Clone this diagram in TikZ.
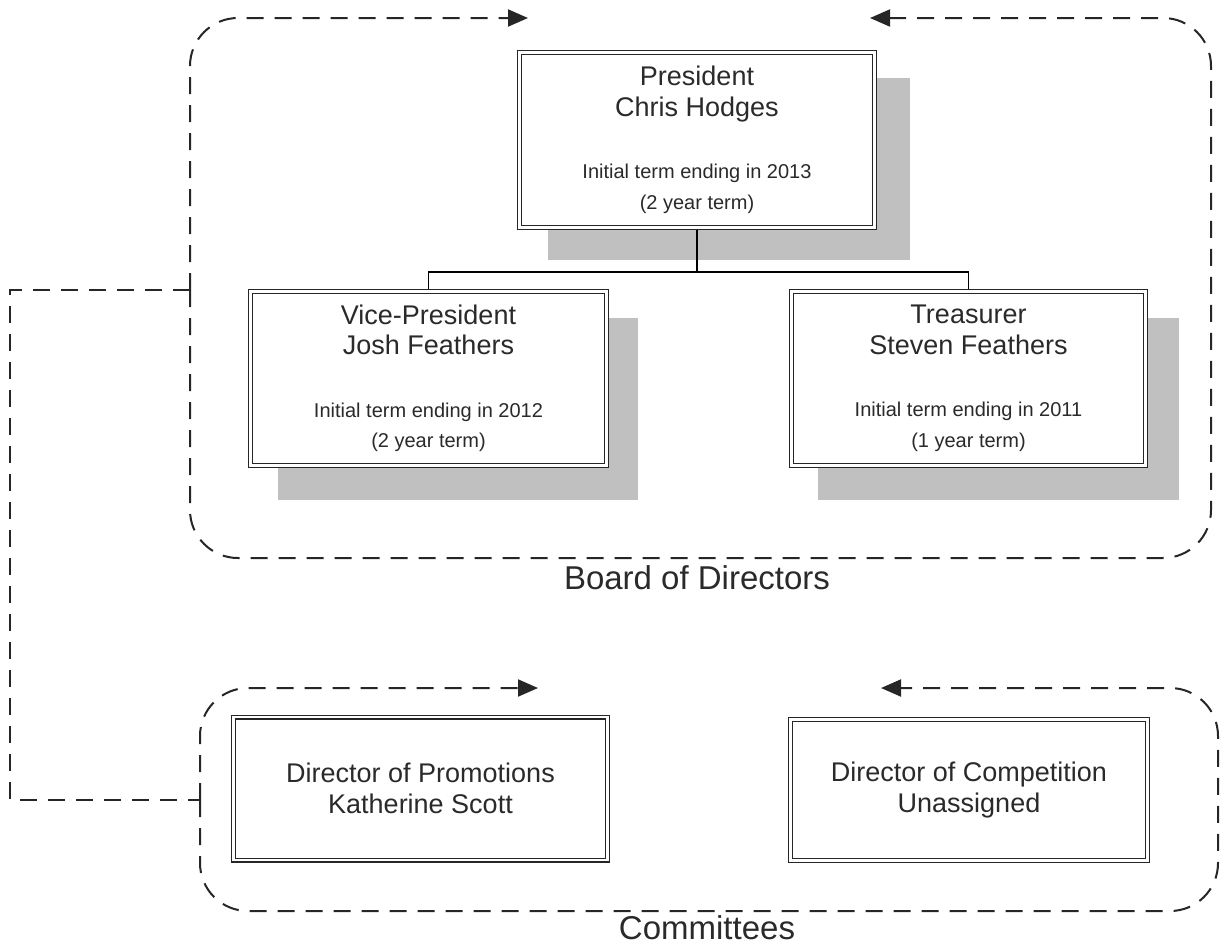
\documentclass[tikz,border=0pt]{standalone}
\usepackage{fontspec}
\setmainfont{Liberation Sans}
\usetikzlibrary{arrows.meta,backgrounds}
\definecolor{txt}{HTML}{2A2A2A}
\definecolor{shade}{HTML}{C0C0C0}
\begin{document}
\begin{tikzpicture}[x=1pt,y=-1pt,
  box/.style={draw=black!85, line width=1.2pt, double=white, double distance=2.6pt,
    fill=white, align=center, text=txt, inner sep=0pt,
    font=\fontsize{27}{30.5}\selectfont},
  shadowbox/.style={fill=shade},
  tree/.style={draw=black, line width=1.3pt},
  dashline/.style={draw=black!85, line width=2pt, dash pattern=on 17pt off 11pt,
    rounded corners=48pt},
  tip/.style={-{Triangle[length=20pt,width=17pt]}},
  conn/.style={draw=black!85, line width=2pt, dash pattern=on 17pt off 11pt},
  grouplabel/.style={text=txt, font=\fontsize{33}{38}\selectfont, inner sep=0pt}
]
\useasboundingbox (0,0) rectangle (1225,946);

% boxes
\node[box, minimum width=355pt, minimum height=175pt] (P) at (697,140)
  {President\\Chris Hodges\\[32pt]\fontsize{20}{30}\selectfont Initial term ending in 2013\\\fontsize{20}{30}\selectfont (2 year term)};
\node[box, minimum width=356pt, minimum height=174pt] (VP) at (428.5,378.5)
  {Vice-President\\Josh Feathers\\[32pt]\fontsize{20}{30}\selectfont Initial term ending in 2012\\\fontsize{20}{30}\selectfont (2 year term)};
\node[box, minimum width=354pt, minimum height=174pt] (T) at (968.5,378.5)
  {Treasurer\\Steven Feathers\\[32pt]\fontsize{20}{30}\selectfont Initial term ending in 2011\\\fontsize{20}{30}\selectfont (1 year term)};
\node[box, minimum width=374pt, minimum height=143pt] (DP) at (420.5,788.5)
  {Director of Promotions\\Katherine Scott};
\node[box, minimum width=357pt, minimum height=141pt] (DC) at (969,790)
  {Director of Competition\\Unassigned};

% group labels
\node[grouplabel] (bod) at (697,578) {Board of Directors};
\node[grouplabel] (com) at (707,927.5) {Committees};

\begin{scope}[on background layer]
  \fill[shadowbox] (548,78) rectangle (910,260);
  \fill[shadowbox] (278,318) rectangle (638,500);
  \fill[shadowbox] (818,318) rectangle (1179,500);
  \draw[tree] (P.south) -- (697,272) coordinate (j);
  \draw[tree] (j) -| (VP.north);
  \draw[tree] (j) -| (T.north);
\end{scope}

% board boundary
\coordinate (bj) at (190,290);
\coordinate (bl) at (528,18);
\coordinate (br) at (870,18);
\draw[dashline, tip] (bj) -- (190,18) -- (bl);
\draw[dashline, tip] (bj) -- (190,558) -- (1211,558) -- (1211,18) -- (br);

% committees boundary
\coordinate (cj) at (200,800);
\coordinate (cl) at (538,688);
\coordinate (cr) at (881,688);
\draw[dashline, tip] (cj) -- (200,688) -- (cl);
\draw[dashline, tip] (cj) -- (200,911) -- (1218,911) -- (1218,688) -- (cr);

% link between groups
\draw[conn] (bj) -- (10,290) -- (10,800) -- (cj);
\end{tikzpicture}
\end{document}
